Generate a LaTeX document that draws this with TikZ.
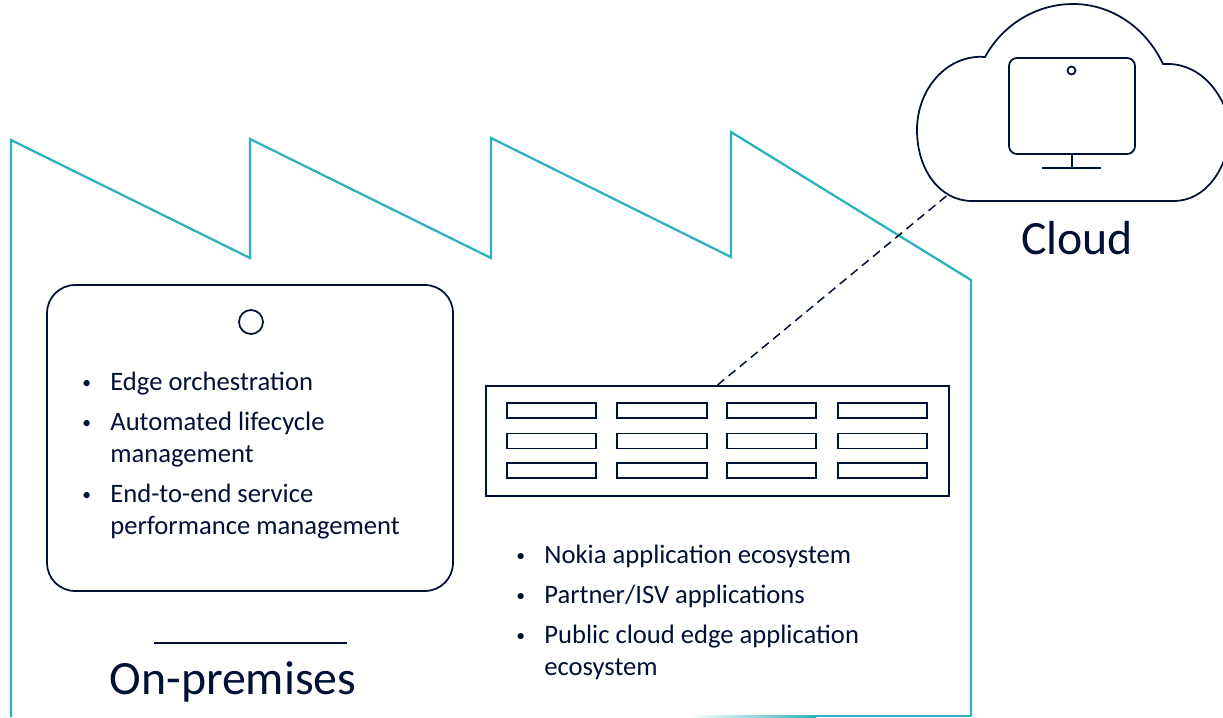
\documentclass[tikz,border=0pt]{standalone}
\usepackage{fontspec}
\setmainfont{Carlito}
\usepackage{xcolor}
\usetikzlibrary{
    positioning
}
\definecolor{navy}{HTML}{001135}
\definecolor{factoryteal}{HTML}{2BB3BC}
\tikzset{
    outline/.style={navy, line width=1pt},
    slot/.style={navy, line width=1.1pt},
    wall/.style={factoryteal, line width=1.3pt},
    item/.style={anchor=base west, inner sep=0pt, navy, font=\fontsize{15.15}{18.1}\selectfont, align=left},
    dot/.style={anchor=base west, inner sep=0pt, navy, font=\fontsize{10}{12}\selectfont},
    title/.style={anchor=base, inner sep=0pt, navy, font=\fontsize{27.2}{30}\selectfont}
}

\begin{document}
\begin{tikzpicture}[x=0.02cm, y=-0.02cm]
                        \useasboundingbox (0, 0) rectangle (1223, 717);
                        \clip (0, 0) rectangle (1223, 717);

                        \draw[wall, line join=miter] (11, 717) -- (11, 140) -- (250, 258) -- (250, 139) -- (491, 258) -- (491, 138) -- (731, 257) -- (731, 132) -- (971, 280) -- (971, 716);
                        \fill[left color=white, right color=factoryteal, draw=none] (690, 715.2) rectangle (816, 717);
                        \fill[factoryteal] (816, 715.2) rectangle (971, 717);

                        % the tablet on the left
                        \node[draw=navy, line width=1pt, rounded corners=0.56cm, minimum width=8.12cm, minimum height=6.12cm, inner sep=0pt] (tablet) at (250, 438) {};
                        \draw[outline] (251, 322) circle (12);

                        \node[dot] (b0) at (82, 388) {•};
                        \node[item] (t0) at (110, 390) {Edge orchestration};
                        \node[dot] (b1) at (82, 428) {•};
                        \node[item] (t1) at (110, 462) {Automated lifecycle\\management};
                        \node[dot] (b2) at (82, 500) {•};
                        \node[item] (t2) at (110, 534) {End-to-end service\\performance management};

                        \coordinate (rulel) at (154, 643);
                        \coordinate (ruler) at (347, 643);
                        \draw[outline] (rulel) -- (ruler);
                        \node[title] (onprem) at (233, 694) {On-premises};

                        % the server
                        \node[draw=navy, line width=1.1pt, minimum width=9.26cm, minimum height=2.2cm, inner sep=0pt] (server) at (717.5, 441) {};
                        \begin{scope}
                            \draw[slot] (507, 403) rectangle (596, 418);
                            \draw[slot] (617, 403) rectangle (707, 418);
                            \draw[slot] (727, 403) rectangle (816, 418);
                            \draw[slot] (838, 403) rectangle (927, 418);
                            \draw[slot] (507, 433.5) rectangle (596, 448.5);
                            \draw[slot] (617, 433.5) rectangle (707, 448.5);
                            \draw[slot] (727, 433.5) rectangle (816, 448.5);
                            \draw[slot] (838, 433.5) rectangle (927, 448.5);
                            \draw[slot] (507, 463) rectangle (596, 478);
                            \draw[slot] (617, 463) rectangle (707, 478);
                            \draw[slot] (727, 463) rectangle (816, 478);
                            \draw[slot] (838, 463) rectangle (927, 478);
                        \end{scope}

                        \node[dot] (b3) at (516, 561) {•};
                        \node[item] (t3) at (544, 563) {Nokia application ecosystem};
                        \node[dot] (b4) at (516, 601) {•};
                        \node[item] (t4) at (544, 603) {Partner/ISV applications};
                        \node[dot] (b5) at (516, 641) {•};
                        \node[item] (t5) at (544, 675) {Public cloud edge application\\ecosystem};

                        % the cloud with its monitor
                        \draw[outline, line join=miter] (972, 201) .. controls (940, 201) and (917, 170) .. (917, 130) .. controls (917, 88) and (948, 54) .. (985, 57) .. controls (1003, 24) and (1037, 4) .. (1073, 4) .. controls (1112, 4) and (1146, 28) .. (1163, 64) .. controls (1197, 62) and (1223, 88) .. (1232, 130) .. controls (1226, 172) and (1205, 200) .. (1175, 201) -- cycle;
                        \draw[outline, rounded corners=0.16cm] (1009, 58) rectangle (1135, 154);
                        \draw[outline] (1071.5, 70.5) circle (4);
                        \coordinate (standtop) at (1072, 154);
                        \coordinate (standfoot) at (1072, 168);
                        \coordinate (basel) at (1042, 168);
                        \coordinate (baser) at (1101, 168);
                        \draw[outline] (standtop) -- (standfoot);
                        \draw[outline] (basel) -- (baser);
                        \node[title] (cloud) at (1077, 254) {Cloud};

                        \coordinate (cloudedge) at (950, 193);
                        \draw[navy, line width=0.85pt, dash pattern=on 5pt off 3.2pt] (server.north) -- (cloudedge);
                    \end{tikzpicture}
\end{document}
